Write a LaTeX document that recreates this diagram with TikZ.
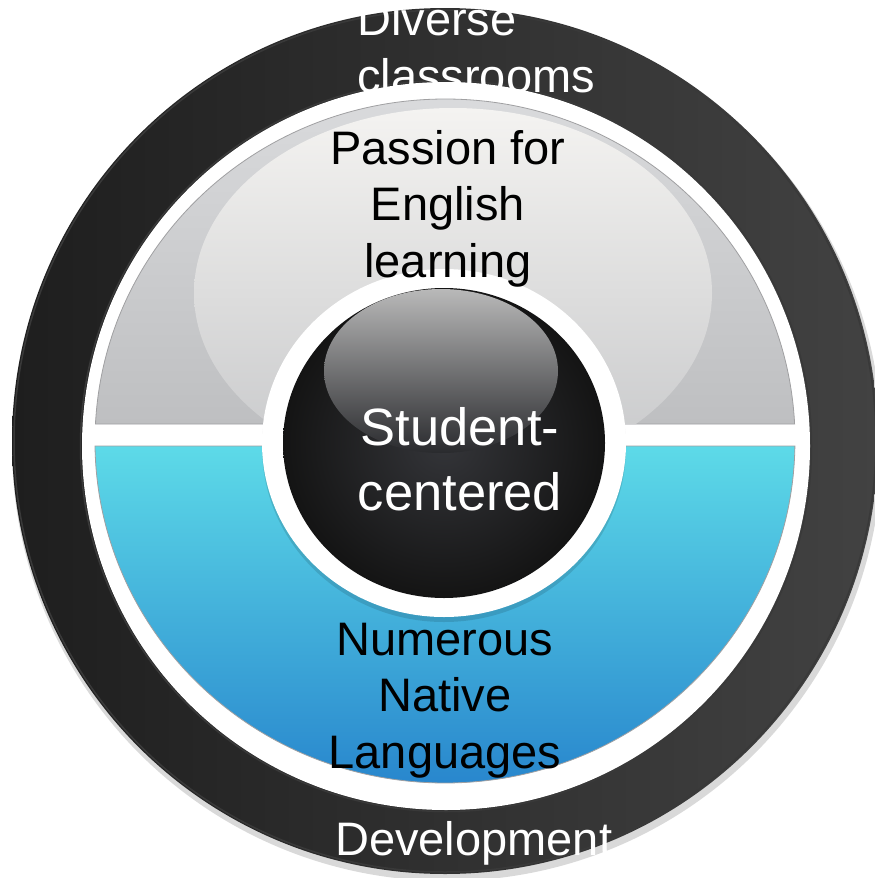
\documentclass[tikz,border=0pt]{standalone}
\usepackage{fontspec}
\setmainfont{Liberation Sans}
\usetikzlibrary{positioning}
\definecolor{myringdark}{RGB}{30,30,30}
\definecolor{myringlight}{RGB}{66,66,66}
\definecolor{mysegtop}{RGB}{218,219,221}
\definecolor{mysegbottom}{RGB}{190,191,193}
\definecolor{mysegline}{RGB}{160,160,162}
\definecolor{myglosstop}{RGB}{244,243,241}
\definecolor{myglossbottom}{RGB}{198,199,201}
\definecolor{mycyantop}{RGB}{93,218,232}
\definecolor{mycyanbottom}{RGB}{40,134,205}
\definecolor{myhubmid}{RGB}{52,53,57}
\definecolor{myhubedge}{RGB}{20,20,20}
\newcommand{\labelfont}{\fontsize{47pt}{56.5pt}\selectfont}
\newcommand{\hubfont}{\fontsize{52.5pt}{65pt}\selectfont}
\tikzset{
    common/.style={inner sep=0pt, align=center},
    ring label/.style={common, text=white, font=\labelfont},
    seg label/.style={common, text=black, font=\labelfont},
    hub label/.style={common, text=white, font=\hubfont},
    segment/.style={draw=mysegline, line width=0.8pt},
}

\begin{document}
\begin{tikzpicture}[x=1pt, y=-1pt]
    \useasboundingbox (0,0) rectangle (875,878);
    % outer wheel
    \fill[black, opacity=0.15] (447,446) circle (435pt);
    \shade[left color=myringdark, right color=myringlight] (445,441) circle (433pt);
    \draw[gray!45!black, line width=1.5pt] (445,441) circle (431pt);
    \fill[white] (446,446) circle (364pt);
    \draw[gray!45!black, line width=1.5pt] (446,446) circle (365.5pt);
    % the two halves
    \shadedraw[segment, top color=mysegtop, bottom color=mysegbottom]
        (794.6,424) arc[start angle=2.85, end angle=177.15, x radius=350pt, y radius=342pt] -- cycle;
    \begin{scope}
        \clip (794.6,424) arc[start angle=2.85, end angle=177.15, x radius=350pt, y radius=342pt] -- cycle;
        \shade[top color=myglosstop, bottom color=myglossbottom] (453,293) ellipse (259pt and 185pt);
    \end{scope}
    \shadedraw[segment, top color=mycyantop, bottom color=mycyanbottom]
        (794.9,446) arc[start angle=-0.84, end angle=-179.16, x radius=350pt, y radius=342pt] -- cycle;
    % hub
    \fill[black, opacity=0.12] (444,447) ellipse (182pt and 175pt);
    \fill[white] (444,443) ellipse (182pt and 174pt);
    \shade[inner color=myhubmid, outer color=myhubedge] (444,443) ellipse (161pt and 155pt);
    \shade[top color=gray!55, middle color=gray!40!black, bottom color=myhubmid!80!black]
        (441,371) ellipse (117pt and 82pt);

    % labels, anchored on the baseline of their last line
    \node[ring label, align=left, anchor=base west] (diverse) at (357,92) {Diverse\\classrooms};
    \node[seg label, anchor=base] (passion) at (448,277) {Passion for\\English\\learning};
    \node[hub label, anchor=base] (student) at (460,510) {Student-\\centered};
    \node[seg label, anchor=base] (native) at (445,768) {Numerous\\Native\\Languages};
    \node[ring label, anchor=base west] (development) at (335,855) {Development};
\end{tikzpicture}
\end{document}
